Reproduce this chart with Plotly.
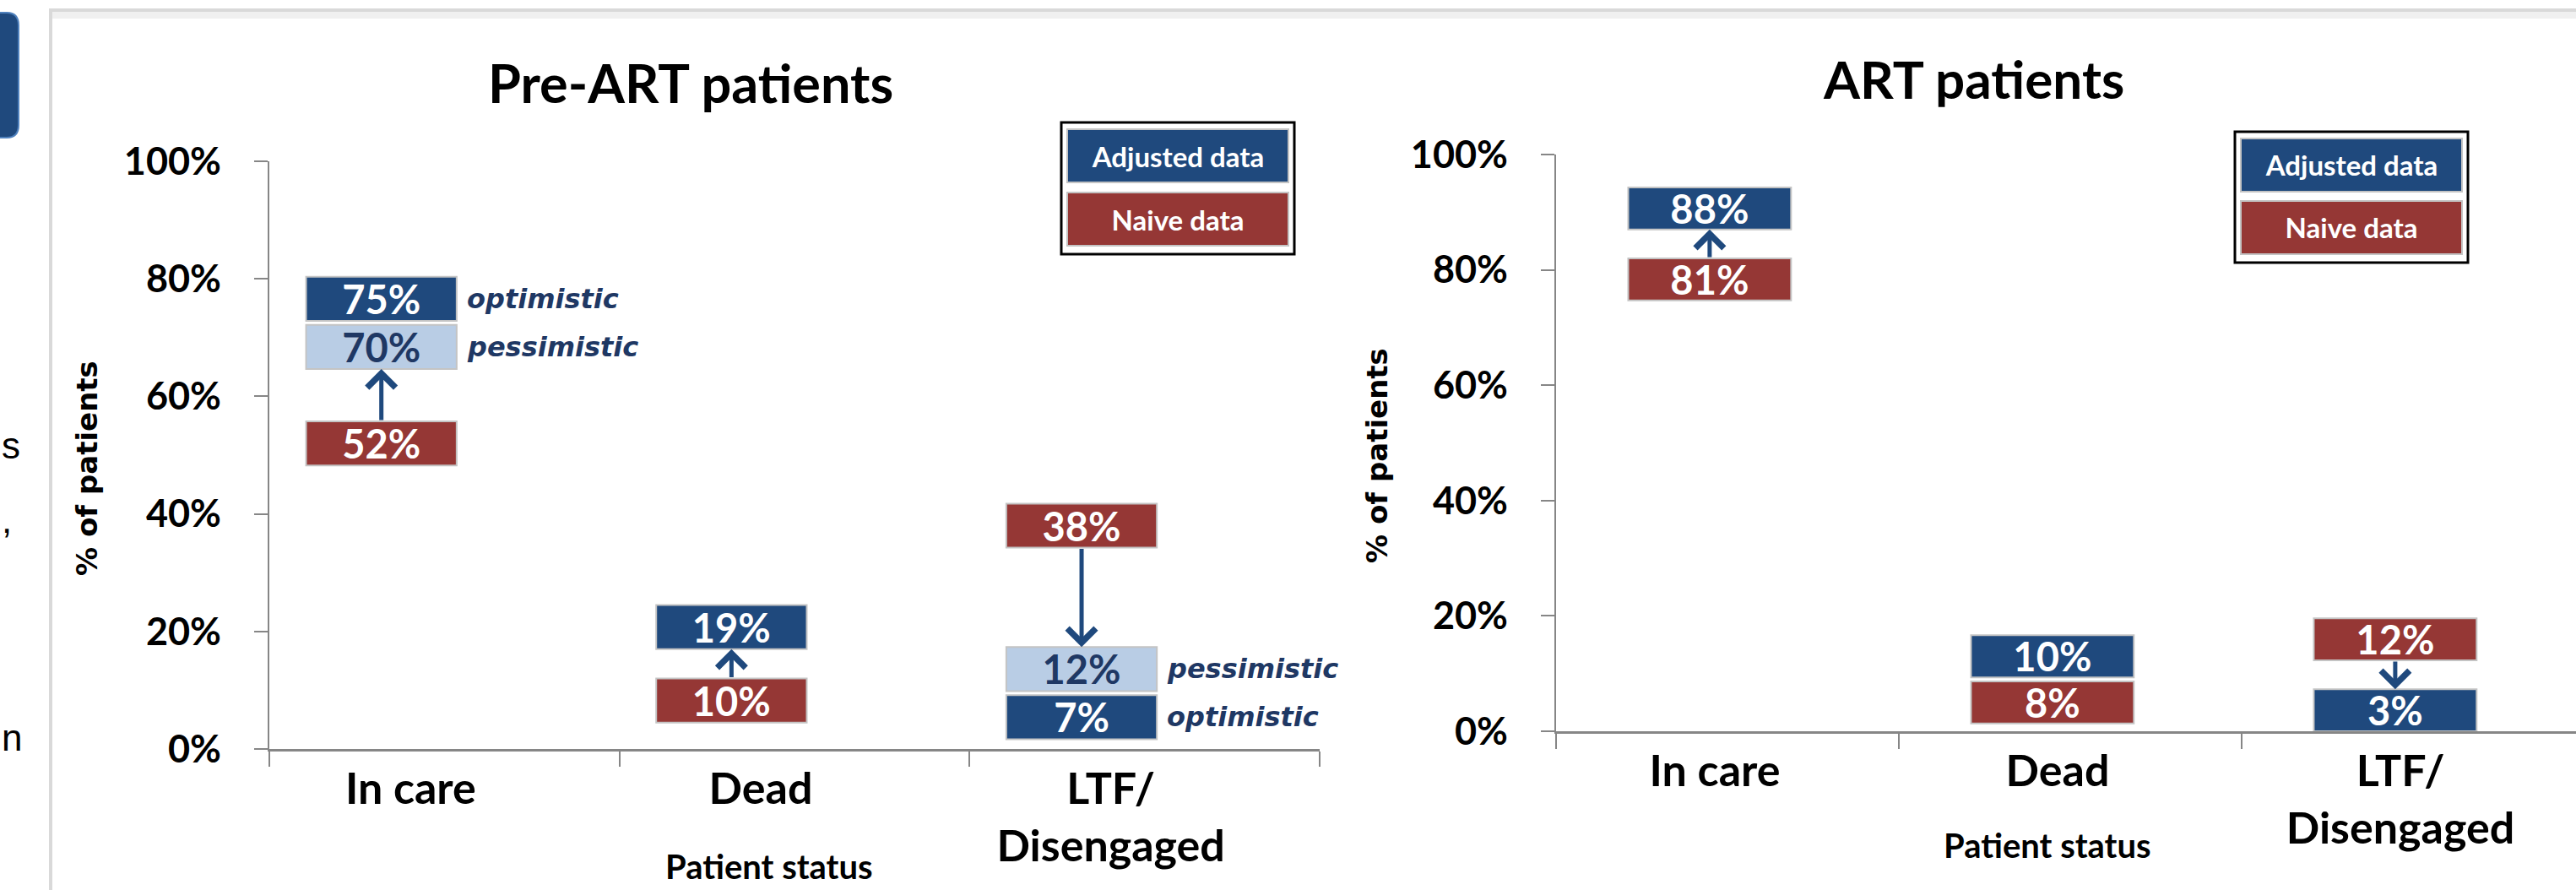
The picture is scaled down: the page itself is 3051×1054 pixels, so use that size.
import plotly.graph_objects as go

# ---------------- data ----------------
categories = ["In care", "Dead", "LTF/<br>Disengaged"]

pre_naive = [52, 10, 38]
pre_adjusted = [75, 19, 7]          # optimistic
pre_pessimistic = [70, None, 12]    # pessimistic scenario
pre_arrows = [True, True, True]

art_naive = [81, 8, 12]
art_adjusted = [88, 10, 3]
art_pessimistic = [None, None, None]
art_arrows = [True, False, True]

titles = ["Pre-ART patients", "ART patients"]
legend_labels = ["Adjusted data", "Naive data"]
scenario_labels = ["optimistic", "pessimistic"]
y_ticks = [0, 20, 40, 60, 80, 100]
y_ticktext = ["0%", "20%", "40%", "60%", "80%", "100%"]

# ---------------- styles ----------------
W, H = 3051, 1054
BLUE = "#1F497D"
RED = "#953735"
LIGHT = "#B9CDE5"
NAVY = "#1F3864"
AXIS = "#868686"
BORDER = "#C4C4C4"
FONT = "Lato"

panels = [
    dict(xa="x", ya="y", xdom=(319, 1563), ydom=(887, 191), rng_end=2.5,
         pxcat=414.7, box_h=7.5, box_w=0.43, shift=-0.18, lab_shift=-40,
         naive=pre_naive, adj=pre_adjusted, pes=pre_pessimistic, arrows=pre_arrows,
         scen=True, title=titles[0], title_xy=(818, 97), title_size=63,
         leg=(1257, 145, 1533, 301), ytitle=(103, 555), xtitle=(911, 1052)),
    dict(xa="x2", ya="y2", xdom=(1843, 3051), ydom=(866, 183), rng_end=None,
         pxcat=406.0, box_h=7.3, box_w=0.475, shift=-0.052, lab_shift=-15,
         naive=art_naive, adj=art_adjusted, pes=art_pessimistic, arrows=art_arrows,
         scen=False, title=titles[1], title_xy=(2337, 93), title_size=62,
         leg=(2647, 156, 2923, 311), ytitle=(1631, 540), xtitle=(2425, 1027)),
]

TIGHT_GAP = 0.7
ARROW_GAP = 5.0


def px(x):
    return x / W


def py(y):
    return 1 - y / H


def place(vals, gaps, h):
    """Spread stacked label boxes so they do not overlap (values top->bottom)."""
    c = list(vals)
    for _ in range(200):
        for i in range(len(c) - 1):
            need = h + gaps[i]
            d = c[i] - c[i + 1]
            if d < need:
                s = (need - d) / 2
                c[i] += s
                c[i + 1] -= s
        if c[-1] < h / 2:
            c[-1] = h / 2
        for i in range(len(c) - 2, -1, -1):
            need = h + gaps[i]
            if c[i] - c[i + 1] < need:
                c[i] = c[i + 1] + need
    return c


fig = go.Figure()
annotations = []
shapes = []

for p in panels:
    n = len(categories)
    h = p["box_h"]
    centers = {"naive": [None] * n, "adj": [None] * n, "pes": [None] * n}
    for i in range(n):
        items = [("naive", p["naive"][i]), ("adj", p["adj"][i])]
        if p["pes"][i] is not None:
            items.append(("pes", p["pes"][i]))
        items.sort(key=lambda t: -t[1])
        gaps = []
        for k in range(len(items) - 1):
            pair = {items[k][0], items[k + 1][0]}
            gaps.append(ARROW_GAP if ("naive" in pair and p["arrows"][i]) else TIGHT_GAP)
        cs = place([v for _, v in items], gaps, h)
        for (role, _), cc in zip(items, cs):
            centers[role][i] = cc

    offset = p["shift"] - p["box_w"] / 2
    for role, vals, col, tcol in [("naive", p["naive"], RED, "white"),
                                  ("adj", p["adj"], BLUE, "white"),
                                  ("pes", p["pes"], LIGHT, NAVY)]:
        xs, bases, ys, txt = [], [], [], []
        for i, v in enumerate(vals):
            if v is None:
                continue
            xs.append(categories[i])
            bases.append(centers[role][i] - h / 2)
            ys.append(h)
            txt.append(f"{v}%")
        if not xs:
            continue
        fig.add_trace(go.Bar(
            x=xs, y=ys, base=bases, xaxis=p["xa"], yaxis=p["ya"],
            width=p["box_w"], offset=offset,
            marker=dict(color=col, line=dict(color=BORDER, width=2)),
            text=txt, textposition="inside", insidetextanchor="middle",
            constraintext="none", textangle=0,
            textfont=dict(family=FONT, size=47, color=tcol, weight="bold"),
            showlegend=False, hoverinfo="skip", cliponaxis=False))

    # arrows from naive to nearest adjusted box
    for i in range(n):
        if not p["arrows"][i]:
            continue
        nv = p["naive"][i]
        targets = [("adj", p["adj"][i])]
        if p["pes"][i] is not None:
            targets.append(("pes", p["pes"][i]))
        role, tv = min(targets, key=lambda t: abs(t[1] - nv))
        nc, tc = centers["naive"][i], centers[role][i]
        if tv > nv:
            tail, head = nc + h / 2, tc - h / 2
        else:
            tail, head = nc - h / 2, tc + h / 2
        xc = i + p["shift"]
        annotations.append(dict(
            x=xc, y=head, ax=xc, ay=tail, xref=p["xa"], yref=p["ya"],
            axref=p["xa"], ayref=p["ya"], text="", showarrow=True,
            arrowhead=4, arrowsize=1.3, arrowwidth=5, arrowcolor=BLUE, standoff=0))

    # scenario labels
    if p["scen"]:
        for i in range(n):
            if p["pes"][i] is None:
                continue
            for role, lab in [("adj", scenario_labels[0]), ("pes", scenario_labels[1])]:
                annotations.append(dict(
                    x=i + p["shift"] + p["box_w"] / 2, y=centers[role][i],
                    xref=p["xa"], yref=p["ya"], xanchor="left", yanchor="middle",
                    xshift=10, text=lab, showarrow=False,
                    font=dict(family="DejaVu Sans", size=32, color=NAVY, weight="bold",
                              style="italic")))

    # titles
    annotations.append(dict(x=px(p["title_xy"][0]), y=py(p["title_xy"][1]), xref="paper", yref="paper",
                            text=p["title"], showarrow=False, xanchor="center", yanchor="middle",
                            font=dict(family=FONT, size=p["title_size"], color="black", weight="bold")))
    annotations.append(dict(x=px(p["ytitle"][0]), y=py(p["ytitle"][1]), xref="paper", yref="paper",
                            text="% of patients", showarrow=False, textangle=-90,
                            xanchor="center", yanchor="middle",
                            font=dict(family="DejaVu Sans", size=34, color="black", weight="bold")))
    annotations.append(dict(x=px(p["xtitle"][0]), y=py(p["xtitle"][1]), xref="paper", yref="paper",
                            text="Patient status", showarrow=False, xanchor="center", yanchor="bottom",
                            font=dict(family=FONT, size=40, color="black", weight="bold")))

    # legend box
    lx0, ly0, lx1, ly1 = p["leg"]
    shapes.append(dict(type="rect", xref="paper", yref="paper", x0=px(lx0), x1=px(lx1),
                       y0=py(ly1), y1=py(ly0), line=dict(color="black", width=3)))
    inner_w = (lx1 - lx0) - 16
    inner_h = ((ly1 - ly0) - 34) / 2
    for k, (lab, col) in enumerate(zip(legend_labels, [BLUE, RED])):
        cy = ly0 + 9 + inner_h / 2 + k * (inner_h + 14)
        annotations.append(dict(x=px((lx0 + lx1) / 2), y=py(cy), xref="paper", yref="paper",
                                text=lab, showarrow=False, xanchor="center", yanchor="middle",
                                width=inner_w, height=inner_h, bgcolor=col, bordercolor=BORDER,
                                borderwidth=2, borderpad=0,
                                font=dict(family=FONT, size=33, color="white", weight="bold")))

    # axes
    x0, x1 = p["xdom"]
    if p["rng_end"] is None:
        rng_end = -0.5 + (x1 - x0) / p["pxcat"]
    else:
        rng_end = p["rng_end"]
    xkey = "xaxis" if p["xa"] == "x" else "xaxis2"
    ykey = "yaxis" if p["ya"] == "y" else "yaxis2"
    fig.update_layout(**{
        xkey: dict(domain=[px(x0), px(x1)], type="category", categoryorder="array",
                   categoryarray=categories, range=[-0.5, rng_end], anchor=p["ya"],
                   automargin=False,
                   showline=True, linecolor=AXIS, linewidth=3, ticks="outside",
                   tickson="boundaries", ticklen=18, tickwidth=2, tickcolor=AXIS,
                   showgrid=False, zeroline=False, ticklabelshift=p["lab_shift"],
                   tickfont=dict(family=FONT, size=52, color="black", weight="bold")),
        ykey: dict(domain=[py(p["ydom"][0]), py(p["ydom"][1])], range=[0, 100],
                   anchor=p["xa"], tickvals=y_ticks, ticktext=y_ticktext,
                   automargin=False,
                   showline=True, linecolor=AXIS, linewidth=2, ticks="outside",
                   ticklen=16, tickwidth=2, tickcolor=AXIS, showgrid=False, zeroline=False,
                   ticklabelstandoff=30,
                   tickfont=dict(family=FONT, size=45, color="black", weight="bold")),
    })

# slide frame decorations
shapes.append(dict(type="line", xref="paper", yref="paper", x0=px(58), x1=1, y0=py(12), y1=py(12),
                   line=dict(color="#D9D9D9", width=4)))
shapes.append(dict(type="rect", xref="paper", yref="paper", x0=px(58), x1=1, y0=py(22), y1=py(14),
                   line=dict(width=0), fillcolor="#F0F0F0"))
shapes.append(dict(type="line", xref="paper", yref="paper", x0=px(60), x1=px(60), y0=0, y1=py(12),
                   line=dict(color="#D9D9D9", width=4)))
shapes.append(dict(type="path", xref="paper", yref="paper",
                   path=f"M {px(-5)},{py(15)} L {px(8)},{py(15)} Q {px(22)},{py(15)} {px(22)},{py(30)} "
                        f"L {px(22)},{py(148)} Q {px(22)},{py(163)} {px(8)},{py(163)} L {px(-5)},{py(163)} Z",
                   fillcolor=BLUE, line=dict(color="#4F81BD", width=2)))
for ch, yy in [("s", 527), (",", 615), ("n", 873)]:
    annotations.append(dict(x=0, y=py(yy), xref="paper", yref="paper", text=ch,
                            showarrow=False, xanchor="left", yanchor="middle",
                            font=dict(family="Liberation Sans", size=44, color="black")))

fig.update_layout(template="none", width=W, height=H, autosize=False,
                  margin=dict(l=0, r=0, t=0, b=0, autoexpand=False),
                  paper_bgcolor="white", plot_bgcolor="white", barmode="overlay",
                  showlegend=False, annotations=annotations, shapes=shapes,
                  uniformtext=dict(minsize=44, mode="show"))

fig.write_html("out.html")
